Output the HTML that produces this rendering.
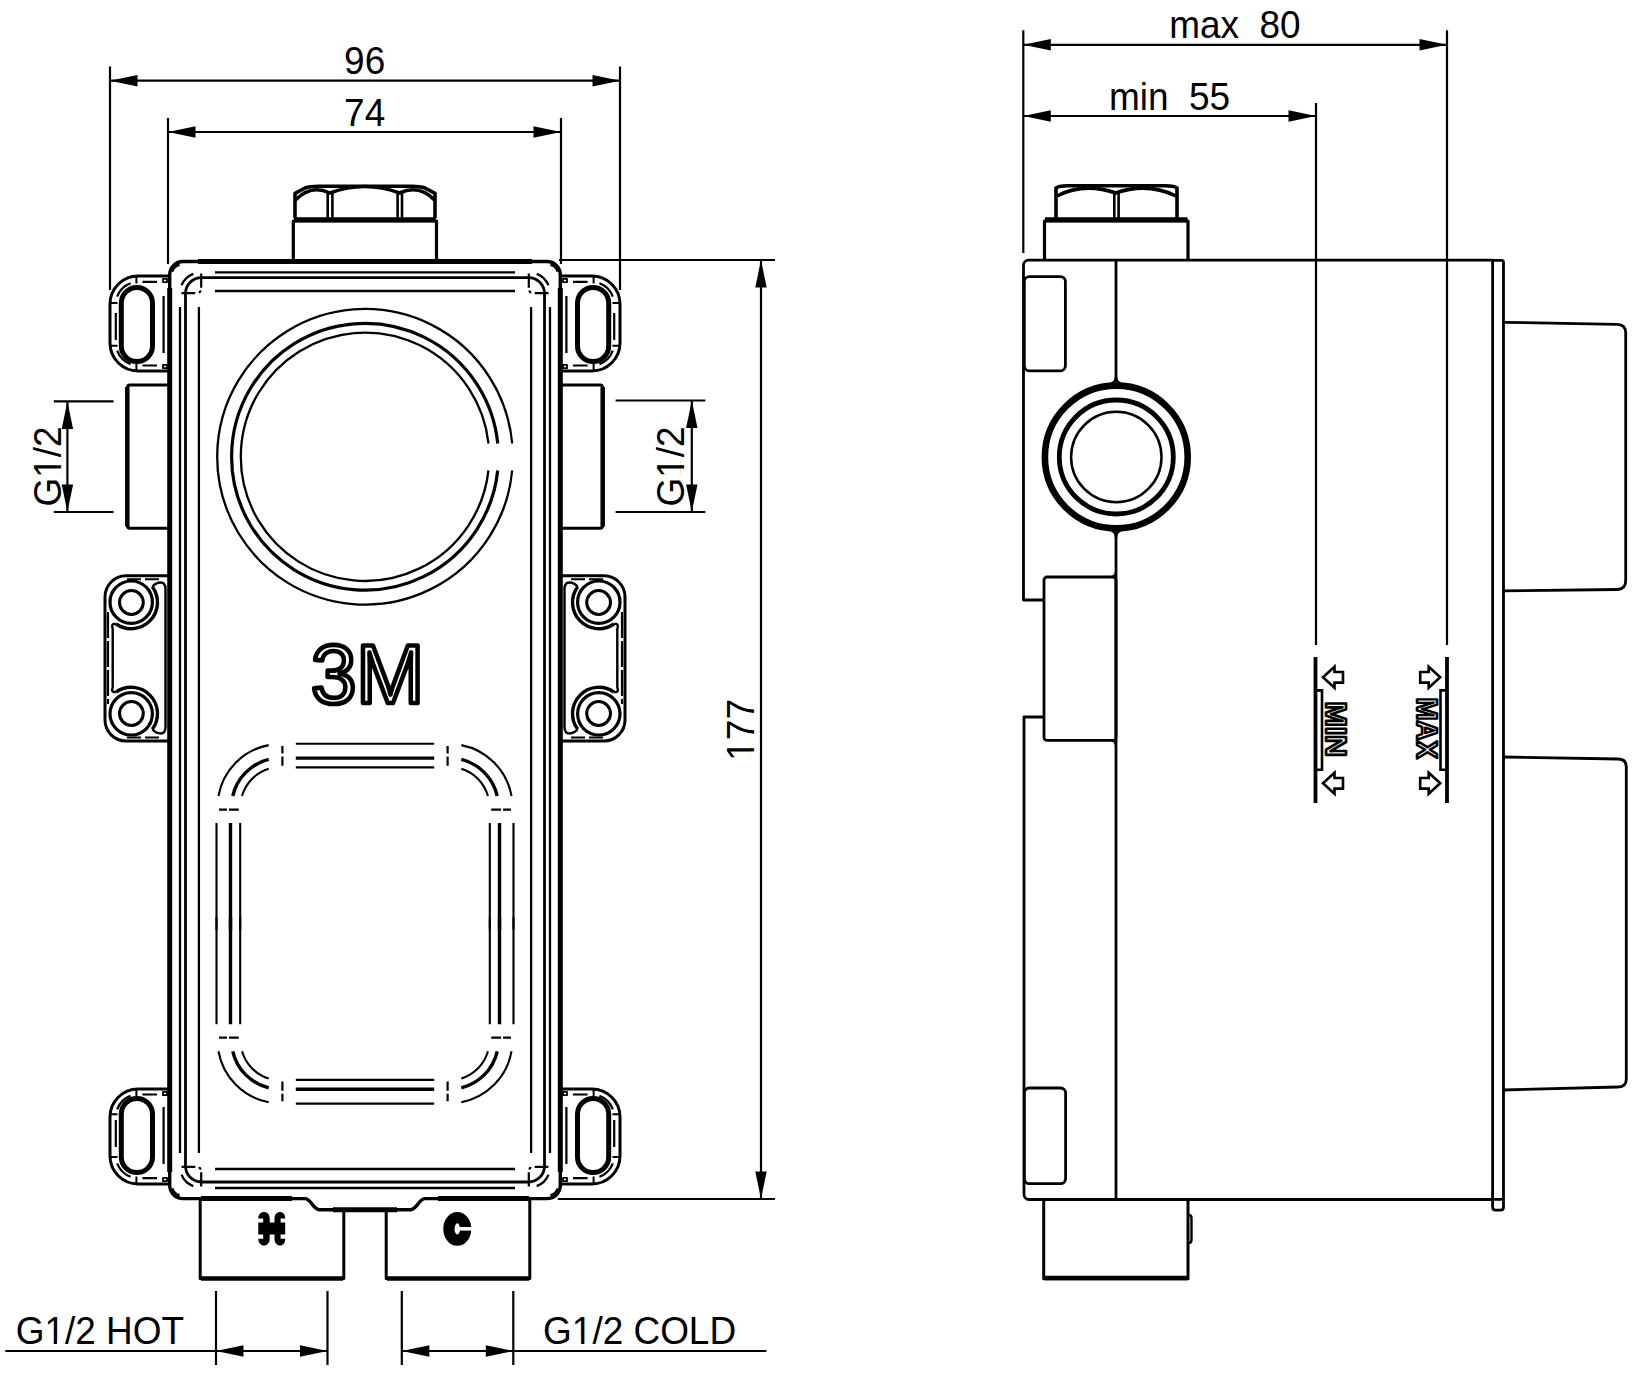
<!DOCTYPE html>
<html><head><meta charset="utf-8">
<style>
html,body{margin:0;padding:0;background:#fff;}
body{width:1650px;height:1376px;overflow:hidden;}
svg{display:block;}
text{font-family:"Liberation Sans",sans-serif;}
</style></head>
<body>
<svg width="1650" height="1376" viewBox="0 0 1650 1376">
<defs>
<!-- top-left corner features (mirrored vertically for bottom) -->
<g id="cornerTL" fill="none" stroke="#000">
  <!-- lug -->
  <path d="M168,276 H138 A28,28 0 0 0 110,304 V343 A28,28 0 0 0 138,371 H168" stroke-width="3"/>
  <rect x="121.3" y="287.5" width="31.2" height="74" rx="15.6" stroke-width="5"/>
  <path d="M157,281.8 H142.4 M130.6,283.2 A22.5,22.5 0 0 0 117.2,296.6 M115.8,313 V340 M117.2,350.7 A22.5,22.5 0 0 0 130.6,364.1 M142.4,365.5 H157 M163.6,296 V353" stroke-width="2.2"/>
  <path d="M136.4,276 V283.5 M110,303 H117.5 M110,345.8 H117.5 M136.4,363.5 V371" stroke-width="2"/>
  <path d="M163,278.8 h4 v3.4 h-4 z M163,364.8 h4 v3.4 h-4 z" stroke-width="1.8"/>
  <!-- body corner marks -->
  <path d="M181.5,285.3 A20.8,20.8 0 0 1 193.3,273.9" stroke-width="2.2"/>
  <path d="M201.2,273.5 V287.7 M195.3,293.2 H181.5" stroke-width="2.2"/>
  <path d="M199.6,292.2 l0.8,-0.8" stroke-width="2.2" stroke-linecap="round"/>
  <path d="M172,271.5 A10,10 0 0 1 179.5,264.5" stroke-width="3"/>
</g>
<!-- left half of front view (mirrored) -->
<g id="halfL" fill="none" stroke="#000" stroke-linejoin="round">
  <!-- body outer contour -->
  <path d="M365,261.5 H183 A13.3,13.3 0 0 0 169.7,274.8 V1185.3 A13.3,13.3 0 0 0 183,1198.6 H305 C311,1198.6 313,1209.8 320,1209.8 H365" stroke-width="3.4"/>
  <path d="M198,261.5 H365 M169.7,288 V1172 M201,1198.6 H292 M333,1209.8 H365" stroke-width="5"/>
  <!-- inner contour -->
  <path d="M365,277.6 H201.5 A16,16 0 0 0 185.5,293.6 V1166 A16,16 0 0 0 201.5,1182 H365" stroke-width="2.8"/>
  <!-- thin lines -->
  <path d="M180,307 V1153 M198.9,307 V1153 M215,272.4 H365 M215,291 H365 M215,1169 H365 M215,1188 H365" stroke-width="2.3"/>
  <use href="#cornerTL"/>
  <use href="#cornerTL" transform="translate(0,1460) scale(1,-1)"/>
  <!-- middle lug -->
  <path d="M168,575.8 H126 A21,21 0 0 0 105,596.8 V720 A21,21 0 0 0 126,741 H168" stroke-width="3"/>
  <path d="M108,612 V704" stroke-width="2.2" stroke-dasharray="26,3"/>
  <path d="M127,579.2 H160 M127,737.6 H160" stroke-width="2" stroke-dasharray="14,4"/>
  <g id="midLugTop">
    <circle cx="131.2" cy="602.2" r="21.2" stroke-width="3.2"/>
    <circle cx="131.4" cy="602.5" r="11.9" stroke-width="3"/>
    <path d="M152.3,586.7 A26.3,26.3 0 0 1 116.2,624.0" stroke-width="3.4"/>
    <path d="M152.3,586.7 Q156,582.5 160.5,582.5 Q165.5,582.5 165.5,589 V658" stroke-width="2.4"/>
    <path d="M116.2,624.0 Q110.5,623 112.7,629 V658" stroke-width="2.4"/>
  </g>
  <use href="#midLugTop" transform="translate(0,1316) scale(1,-1)"/>
  <!-- side port -->
  <path d="M169.7,385 H130 Q127.5,385 127.5,387.5 V526 Q127.5,528.3 130,528.3 H169.7" stroke-width="3"/>
  <path d="M127.3,387 V526.5" stroke-width="4.5"/>
  <!-- bottom port -->
  <path d="M200.2,1198.6 V1278.5 H343.8 V1209.8" stroke-width="3"/>
  <path d="M201,1278.5 H343" stroke-width="4.5"/>
  <!-- lower rounded rect pattern -->
  <g id="rectTL">
    <path d="M218.47,796 A63,63 0 0 1 268.7,745.1 M242.04,796 A40,40 0 0 1 268.7,768.8" stroke-width="2.1"/>
    <path d="M232.75,796 A49,49 0 0 1 268.7,759.4" stroke-width="3.4"/>
    <path d="M216.5,823 V930 M240.2,823 V930 M295.8,743.7 H365 M295.8,767.4 H365" stroke-width="2.1"/>
    <path d="M230.5,823 V930 M295.8,758.1 H365" stroke-width="3.4"/>
    <path d="M282.4,746 V753.6 M282.4,756.5 V765.8 M219,809.6 H226.9 M228.9,809.6 H238.8" stroke-width="2.2"/>
  </g>
  <use href="#rectTL" transform="translate(0,1847.3) scale(1,-1)"/>
</g>
</defs>

<use href="#halfL"/>
<use href="#halfL" transform="translate(730,0) scale(-1,1)"/>

<!-- big circle -->
<g fill="none" stroke="#000">
  <path d="M512.20,443.5 A147.8,147.8 0 1 0 512.16,470.5" stroke-width="2.3"/>
  <path d="M497.74,443.5 A133.4,133.4 0 1 0 497.69,470.5" stroke-width="3.2"/>
  <path d="M488.49,443.5 A124.2,124.2 0 1 0 488.44,470.5" stroke-width="2.3"/>
</g>

<!-- nut front -->
<g fill="none" stroke="#000" stroke-linejoin="round">
  <path d="M293.3,261 V221 H436.5 V261" stroke-width="3.2"/>
  <path d="M294,219.7 H435.8" stroke-width="5"/>
  <path d="M295,218 V193.4 L305,188 Q310,186.2 318,186.2 H412 Q420,186.2 425,188 L435,193.4 V218" stroke-width="3.6"/>
  <path d="M295.5,200 Q311,184 329.7,193 Q365,180 399.6,193 Q419,184 434.5,200" stroke-width="3.6"/>
  <path d="M327.7,193 V218 M332.4,193 V218 M397.6,193 V218 M402,193 V218" stroke-width="2.6"/>
</g>

<!-- 3M logo -->
<text transform="translate(310.9,703.2) scale(0.99,1.02)" font-size="82.5" fill="#fff" stroke="#000" stroke-width="4.6" stroke-linejoin="round">3M</text>
<!-- H / C -->
<path d="M258.3,1218.4 Q258.3,1212 264,1212 Q269.7,1212 269.7,1218.4 V1245.5 M264,1212 V1245.5" fill="none" stroke="none"/>
<g fill="#000" stroke="none">
  <path d="M258.3,1218.6 C258.3,1214 261,1212 264,1212 C267,1212 269.7,1214 269.7,1218.6 V1222.4 H274.5 V1218.6 C274.5,1214 277.3,1212 280,1212 C283,1212 285.2,1214 285.2,1218.6 H280.6 V1222.4 H285.2 V1234.6 H280.6 V1238.7 H285.2 C285.2,1243 283,1245.5 280,1245.5 C277.3,1245.5 274.5,1243 274.5,1238.7 V1234.6 H269.7 V1238.7 C269.7,1243 267,1245.5 264,1245.5 C261,1245.5 258.3,1243 258.3,1238.7 H263.2 V1234.6 H258.3 V1222.4 H263.2 V1218.6 Z"/>
</g>
<ellipse cx="457.3" cy="1228.9" rx="8.4" ry="11.2" fill="none" stroke="#000" stroke-width="11.2"/>
<rect x="459" y="1227" width="14" height="3.6" fill="#fff"/>

<!-- dimensions front -->
<g fill="none" stroke="#000" stroke-width="2.2">
  <path d="M110,66.5 V290 M620,66.5 V290 M110,80.7 H620"/>
  <path d="M168,118 V264 M561,118 V264 M168,132 H561"/>
  <path d="M53.8,401.4 H113.6 M53.8,512 H113.6 M67.4,401.4 V512"/>
  <path d="M615.6,400.5 H705.3 M615.6,512 H705.3 M691.8,400.5 V512"/>
  <path d="M559,260 H775 M557.8,1199 H775 M761,260 V1199"/>
  <path d="M216,1291 V1365 M327.5,1291 V1365 M401.8,1291 V1365 M513.3,1291 V1365 M5.3,1351 H327.5 M401.8,1351 H766.4"/>
</g>
<g fill="#000" stroke="none">
  <path d="M110,80.7 L137.5,75 L137.5,86.4 Z"/>
  <path d="M620,80.7 L592.5,75 L592.5,86.4 Z"/>
  <path d="M168,132 L195.5,126.3 L195.5,137.7 Z"/>
  <path d="M561,132 L533.5,126.3 L533.5,137.7 Z"/>
  <path d="M67.4,401.4 L61.7,428.9 L73.1,428.9 Z"/>
  <path d="M67.4,512 L61.7,484.5 L73.1,484.5 Z"/>
  <path d="M691.8,400.5 L686.1,428 L697.5,428 Z"/>
  <path d="M691.8,512 L686.1,484.5 L697.5,484.5 Z"/>
  <path d="M761,260 L755.3,287.5 L766.7,287.5 Z"/>
  <path d="M761,1199 L755.3,1171.5 L766.7,1171.5 Z"/>
  <path d="M216,1351 L243.5,1345.3 L243.5,1356.7 Z"/>
  <path d="M327.5,1351 L300,1345.3 L300,1356.7 Z"/>
  <path d="M401.8,1351 L429.3,1345.3 L429.3,1356.7 Z"/>
  <path d="M513.3,1351 L485.8,1345.3 L485.8,1356.7 Z"/>
</g>
<text transform="translate(344.1,74.4) scale(0.96,1)" font-size="38.5">96</text>
<text transform="translate(344.1,126.2) scale(0.96,1)" font-size="38.5">74</text>
<g transform="translate(60.6,506.5) rotate(-90) scale(0.96,1)"><text font-size="38.5">G1/2</text><rect x="32.25" y="-3.28" width="7.35" height="4.28" fill="#fff"/><rect x="43.00" y="-3.28" width="7.05" height="4.28" fill="#fff"/></g>
<g transform="translate(684.2,506.5) rotate(-90) scale(0.96,1)"><text font-size="38.5">G1/2</text><rect x="32.25" y="-3.28" width="7.35" height="4.28" fill="#fff"/><rect x="43.00" y="-3.28" width="7.05" height="4.28" fill="#fff"/></g>
<g transform="translate(754,760.7) rotate(-90) scale(0.96,1)"><text font-size="38.5">177</text><rect x="2.33" y="-3.28" width="7.35" height="4.28" fill="#fff"/><rect x="13.08" y="-3.28" width="7.05" height="4.28" fill="#fff"/></g>
<g transform="translate(15.7,1343.8) scale(0.96,1)"><text font-size="38.5">G1/2 HOT</text><rect x="32.25" y="-3.28" width="7.35" height="4.28" fill="#fff"/><rect x="43.00" y="-3.28" width="7.05" height="4.28" fill="#fff"/></g>
<g transform="translate(543.1,1344.1) scale(0.96,1)"><text font-size="38.5">G1/2 COLD</text><rect x="32.25" y="-3.28" width="7.35" height="4.28" fill="#fff"/><rect x="43.00" y="-3.28" width="7.05" height="4.28" fill="#fff"/></g>

<!-- ============ SIDE VIEW ============ -->
<g fill="none" stroke="#000" stroke-width="2.8" stroke-linejoin="round">
  <!-- body -->
  <path d="M1492.5,260.2 H1028.5 A5,5 0 0 0 1023.5,265.2 V600 H1044 M1044,717 H1024 V1194.5 A5,5 0 0 0 1029,1199.5 H1492.5"/>
  <path d="M1116,260.2 V382.5 M1116,531.5 V1199.5"/>
  <path d="M1111,383.5 Q1116,382 1116,376 Q1116,382 1121,383.5 M1111,530.5 Q1116,532 1116,538 Q1116,532 1121,530.5 M1111.5,577 Q1116,576 1116,571 M1111.5,740.4 Q1116,741.5 1116,746" stroke-width="2.2"/>
  <rect x="1024.3" y="276.6" width="41.1" height="94.2" rx="5"/>
  <rect x="1024.3" y="1088" width="41.3" height="95.6" rx="5"/>
  <rect x="1044" y="577" width="72" height="163.4" rx="3"/>
  <!-- plate -->
  <path d="M1492.6,1207 V260.4 H1501.5 Q1503.5,260.4 1503.5,262.5 V1207 Q1503.5,1210.1 1500.5,1210.1 H1495.6 Q1492.6,1210.1 1492.6,1207 Z M1492.6,1199.3 H1503.5"/>
  <!-- right blocks -->
  <path d="M1503.3,322.3 L1617,324.3 Q1625.7,324.3 1625.7,333 V580.5 Q1625.7,589.5 1617,589.5 L1503.3,590.8"/>
  <path d="M1503.3,757 L1618,759 Q1626.3,759 1626.3,767 V1079 Q1626.3,1087 1618,1087 L1503.3,1090"/>
  <!-- nut -->
  <path d="M1044.5,260 V221 H1188 V260" stroke-width="3.2"/>
  <path d="M1045,219.7 H1187.5" stroke-width="5"/>
  <path d="M1056,218 V188 Q1058,185.7 1068,185.7 H1165 Q1175,185.7 1177,188 V218" stroke-width="3.6"/>
  <path d="M1057,196 Q1084,182 1115.7,193 Q1147,182 1176,196" stroke-width="3.6"/>
  <path d="M1114.3,193 V218 M1118.6,193 V218" stroke-width="2.6"/>
  <!-- bottom port -->
  <path d="M1043.7,1199.5 V1278.7 H1188 V1199.5" stroke-width="3"/>
  <path d="M1188.5,1215 Q1191.5,1215 1191.5,1218 V1240 Q1191.5,1243 1188.5,1243" stroke-width="2.4"/>
  <path d="M1044.5,1278 H1187.5" stroke-width="4.5"/>
</g>
<g fill="none" stroke="#000">
  <circle cx="1116.3" cy="457" r="71.4" stroke-width="6.6"/>
  <circle cx="1116.3" cy="457" r="57" stroke-width="4.8"/>
  <circle cx="1116.3" cy="457" r="45.2" stroke-width="2.5"/>
</g>
<!-- side dims -->
<g fill="none" stroke="#000" stroke-width="2.2">
  <path d="M1023.3,30.3 V253 M1447,30.3 V645 M1316,103 V645 M1023.3,44.8 H1447 M1023.3,116 H1316"/>
</g>
<g fill="#000">
  <path d="M1023.3,44.8 L1050.8,39.1 L1050.8,50.5 Z"/>
  <path d="M1447,44.8 L1419.5,39.1 L1419.5,50.5 Z"/>
  <path d="M1023.3,116 L1050.8,110.3 L1050.8,121.7 Z"/>
  <path d="M1316,116 L1288.5,110.3 L1288.5,121.7 Z"/>
</g>
<text transform="translate(1169.2,38.3) scale(0.96,1)" font-size="38.5" xml:space="preserve">max  80</text>
<text transform="translate(1108.9,110.2) scale(0.96,1)" font-size="38.5" xml:space="preserve">min  55</text>

<!-- MIN / MAX markers -->
<g fill="none" stroke="#000" stroke-linejoin="miter">
  <path d="M1315.5,657 V803" stroke-width="3.8"/>
  <path d="M1447,657 V803" stroke-width="3.8"/>
  <path d="M1316,690.4 H1322 V769.8 H1316" stroke-width="2.6"/>
  <path d="M1446.5,690.4 H1440.5 V769.8 H1446.5" stroke-width="2.6"/>
  <path d="M1323,677.3 L1334.5,666.8 V672 H1343 V682.6 H1334.5 V687.8 Z" stroke-width="2.6"/>
  <path d="M1323,783.3 L1334.5,772.8 V778 H1343 V788.6 H1334.5 V793.8 Z" stroke-width="2.6"/>
  <path d="M1440.2,677.3 L1428.7,666.8 V672 H1420.2 V682.6 H1428.7 V687.8 Z" stroke-width="2.6"/>
  <path d="M1440.2,783.3 L1428.7,772.8 V778 H1420.2 V788.6 H1428.7 V793.8 Z" stroke-width="2.6"/>
</g>
<text transform="translate(1325.9,701.4) rotate(90) scale(1.01,1)" font-size="30" font-weight="bold" fill="#fff" stroke="#000" stroke-width="2.6" stroke-linejoin="round">MIN</text>
<text transform="translate(1416.9,697.6) rotate(90) scale(0.915,1)" font-size="30.1" font-weight="bold" fill="#fff" stroke="#000" stroke-width="2.6" stroke-linejoin="round">MAX</text>
</svg>
</body></html>
